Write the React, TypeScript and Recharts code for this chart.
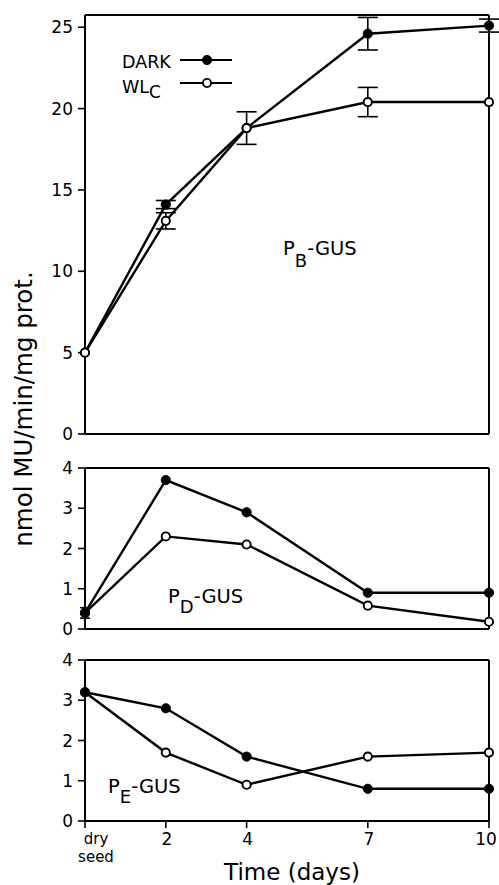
import React from 'react';
import { LineChart, Line, XAxis, YAxis, ErrorBar, ReferenceLine, Legend, Label } from 'recharts';

const days = [0, 2, 4, 7, 10];
const xTickLabels = ['dry seed', '2', '4', '7', '10'];

const pbDark = [5, 14.1, 18.8, 24.6, 25.1];
const pbDarkErr = [null, 0.25, null, 1.0, 0.4];
const pbWlc = [5, 13.1, 18.8, 20.4, 20.4];
const pbWlcErr = [null, 0.5, 1.0, 0.9, null];

const pdDark = [0.4, 3.7, 2.9, 0.9, 0.9];
const pdDarkErr = [0.13, null, null, null, null];
const pdWlc = [0.4, 2.3, 2.1, 0.58, 0.18];

const peDark = [3.2, 2.8, 1.6, 0.8, 0.8];
const peWlc = [3.2, 1.7, 0.9, 1.6, 1.7];

const pbTicks = [0, 5, 10, 15, 20, 25];
const smallTicks = [0, 1, 2, 3, 4];
const pbMax = 25.75;
const smallMax = 4;

const legendItems = [
  { main: 'DARK', sub: '', filled: true },
  { main: 'WL', sub: 'C', filled: false },
];

const FONT = '"DejaVu Sans", sans-serif';

const pbData = days.map((d, i) => ({ day: d, dark: pbDark[i], darkErr: pbDarkErr[i], wlc: pbWlc[i], wlcErr: pbWlcErr[i] }));
const pdData = days.map((d, i) => ({ day: d, dark: pdDark[i], darkErr: pdDarkErr[i], wlc: pdWlc[i] }));
const peData = days.map((d, i) => ({ day: d, dark: peDark[i], wlc: peWlc[i] }));

const axisLine = { stroke: '#000', strokeWidth: 2 };
const tickLine = { stroke: '#000', strokeWidth: 1.6 };
const yTick = { fontSize: 17, fill: '#000', fontFamily: FONT };

const LW = 2.4;
const darkDot = { r: 4.6, fill: '#000', stroke: '#000', strokeWidth: 1 };
const wlcDot = { r: 4.1, fill: '#fff', stroke: '#000', strokeWidth: 1.9 };

const XTick = (props: any) => {
  const { x, y, payload } = props;
  const idx = days.indexOf(payload.value);
  const label = xTickLabels[idx] ?? String(payload.value);
  if (label.includes(' ')) {
    const parts = label.split(' ');
    const cx = x + 11;
    return (
      <text x={cx} y={y} textAnchor="middle" fontSize={15} fill="#000" fontFamily={FONT}>
        <tspan x={cx} dy={11}>{parts[0]}</tspan>
        <tspan x={cx} dy={18}>{parts[1]}</tspan>
      </text>
    );
  }
  const dx = payload.value === 10 ? -3 : 1;
  return (
    <text x={x + dx} y={y} dy="0.72em" textAnchor="middle" fontSize={17} fill="#000" fontFamily={FONT}>
      {label}
    </text>
  );
};

const LegendContent = () => (
  <svg width={130} height={52} style={{ overflow: 'visible' }}>
    {legendItems.map((it, i) => {
      const base = 20 + i * 25;
      const ly = base - 8 + (i === 1 ? -2 : 0);
      return (
        <g key={it.main}>
          <text x={0} y={base} fontSize={17.5} fill="#000" fontFamily={FONT}>
            {it.main}
            {it.sub ? <tspan dy={5} fontSize={17}>{it.sub}</tspan> : null}
          </text>
          <line x1={58} x2={110} y1={ly} y2={ly} stroke="#000" strokeWidth={2} />
          <circle cx={85} cy={ly} r={it.filled ? 4.6 : 4.1} fill={it.filled ? '#000' : '#fff'} stroke="#000" strokeWidth={it.filled ? 1 : 1.9} />
        </g>
      );
    })}
  </svg>
);

const TimeLabel = (props: any) => {
  const vb = props.viewBox || { x: 85, y: 821, width: 404, height: 64 };
  return (
    <text x={vb.x + vb.width / 2 + 5} y={vb.y + vb.height - 5} textAnchor="middle" fontSize={23} fill="#000" fontFamily={FONT}>
      Time (days)
    </text>
  );
};

export default function App() {
  return (
    <div style={{ position: 'absolute', left: 0, top: 0, width: 499, height: 885, background: '#fff', fontFamily: FONT }}>
      <div style={{ position: 'absolute', left: 0, top: 0 }}>
        <LineChart width={499} height={445} data={pbData} margin={{ top: 15, right: 10, left: 0, bottom: 0 }}>
          <XAxis dataKey="day" type="number" domain={[0, 10]} ticks={days} tick={false} tickSize={7} height={11} axisLine={axisLine} tickLine={tickLine} />
          <YAxis type="number" domain={[0, pbMax]} ticks={pbTicks} width={85} tickSize={7} tickMargin={5} tick={yTick} axisLine={axisLine} tickLine={tickLine} />
          <ReferenceLine y={pbMax} stroke="#000" strokeWidth={2} />
          <ReferenceLine x={10} stroke="#000" strokeWidth={2} />
          <Line dataKey="dark" name="DARK" stroke="#000" strokeWidth={LW} dot={darkDot} activeDot={false} isAnimationActive={false}>
            <ErrorBar dataKey="darkErr" width={10} stroke="#000" strokeWidth={1.6} direction="y" />
          </Line>
          <Line dataKey="wlc" name="WLC" stroke="#000" strokeWidth={LW} dot={wlcDot} activeDot={false} isAnimationActive={false}>
            <ErrorBar dataKey="wlcErr" width={10} stroke="#000" strokeWidth={1.6} direction="y" />
          </Line>
          <Legend layout="horizontal" verticalAlign="middle" align="center" content={<LegendContent />} wrapperStyle={{ position: 'absolute', left: 122, top: 48, width: 130 }} />
        </LineChart>
      </div>
      <div style={{ position: 'absolute', left: 0, top: 458 }}>
        <LineChart width={499} height={182} data={pdData} margin={{ top: 10, right: 10, left: 0, bottom: 0 }}>
          <XAxis dataKey="day" type="number" domain={[0, 10]} ticks={days} tick={false} tickSize={7} height={11} axisLine={axisLine} tickLine={tickLine} />
          <YAxis type="number" domain={[0, smallMax]} ticks={smallTicks} width={85} tickSize={7} tickMargin={5} tick={yTick} axisLine={axisLine} tickLine={tickLine} />
          <ReferenceLine y={smallMax} stroke="#000" strokeWidth={2} />
          <ReferenceLine x={10} stroke="#000" strokeWidth={2} />
          <Line dataKey="wlc" name="WLC" stroke="#000" strokeWidth={LW} dot={wlcDot} activeDot={false} isAnimationActive={false} />
          <Line dataKey="dark" name="DARK" stroke="#000" strokeWidth={LW} dot={darkDot} activeDot={false} isAnimationActive={false}>
            <ErrorBar dataKey="darkErr" width={5} stroke="#000" strokeWidth={1.6} direction="y" />
          </Line>
        </LineChart>
      </div>
      <div style={{ position: 'absolute', left: 0, top: 650 }}>
        <LineChart width={499} height={235} data={peData} margin={{ top: 10, right: 10, left: 0, bottom: 0 }}>
          <XAxis dataKey="day" type="number" domain={[0, 10]} ticks={days} tick={<XTick />} tickSize={7} tickMargin={5} height={64} axisLine={axisLine} tickLine={tickLine} interval={0}>
            <Label content={<TimeLabel />} />
          </XAxis>
          <YAxis type="number" domain={[0, smallMax]} ticks={smallTicks} width={85} tickSize={7} tickMargin={5} tick={yTick} axisLine={axisLine} tickLine={tickLine} />
          <ReferenceLine y={smallMax} stroke="#000" strokeWidth={2} />
          <ReferenceLine x={10} stroke="#000" strokeWidth={2} />
          <Line dataKey="wlc" name="WLC" stroke="#000" strokeWidth={LW} dot={wlcDot} activeDot={false} isAnimationActive={false} />
          <Line dataKey="dark" name="DARK" stroke="#000" strokeWidth={LW} dot={darkDot} activeDot={false} isAnimationActive={false} />
        </LineChart>
      </div>
      <svg width={499} height={885} style={{ position: 'absolute', left: 0, top: 0, pointerEvents: 'none' }}>
        <text transform="translate(32,409) rotate(-90)" textAnchor="middle" fontSize={24.5} fill="#000" fontFamily={FONT}>
          nmol MU/min/mg prot.
        </text>
        <text x={283} y={255} fontSize={19.5} fill="#000" fontFamily={FONT}>
          P<tspan dy={12} fontSize={18}>B</tspan><tspan dy={-12}>-GUS</tspan>
        </text>
        <text x={168} y={603} fontSize={19.5} fill="#000" fontFamily={FONT}>
          P<tspan dy={10} fontSize={18}>D</tspan><tspan dy={-10}>-GUS</tspan>
        </text>
        <text x={108} y={793} fontSize={19.5} fill="#000" fontFamily={FONT}>
          P<tspan dy={10} fontSize={18}>E</tspan><tspan dy={-10}>-GUS</tspan>
        </text>
      </svg>
    </div>
  );
}
